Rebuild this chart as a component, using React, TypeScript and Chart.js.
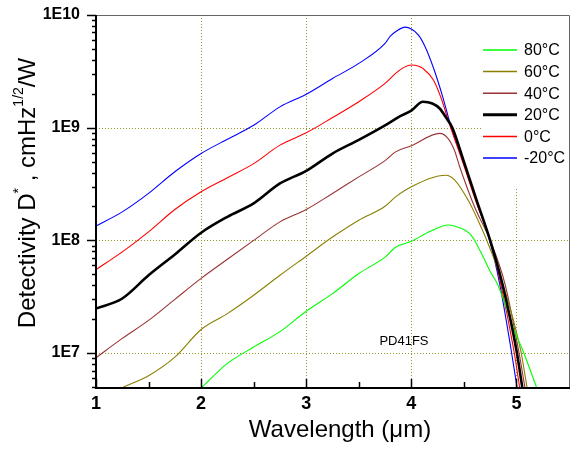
import React, { useEffect, useRef } from 'react';
import { Chart, registerables } from 'chart.js';

Chart.register(...registerables);

// ---- data ----
const seriesLabels = ['80°C', '60°C', '40°C', '20°C', '0°C', '-20°C'];
const seriesColors = ['#00ff00', '#8a8000', '#993333', '#000000', '#ff0000', '#0000ff'];

const wl80 = [2.01, 2.25, 2.5, 2.75, 3.0, 3.25, 3.5, 3.75, 3.85, 4.0, 4.17, 4.35, 4.41, 4.57, 4.666, 4.76, 4.817, 4.89, 4.98, 5.06, 5.19];
const d80 = [5.0e6, 8.1e6, 1.13e7, 1.55e7, 2.35e7, 3.37e7, 5.08e7, 7.1e7, 8.7e7, 9.8e7, 1.19e8, 1.37e8, 1.34e8, 1.11e8, 7.7e7, 5.1e7, 4.14e7, 2.75e7, 1.58e7, 1.06e7, 5.0e6];

const wl60 = [1.26, 1.5, 1.75, 2.0, 2.25, 2.5, 2.75, 3.0, 3.25, 3.5, 3.75, 3.85, 4.0, 4.33, 4.413, 4.54, 4.634, 4.714, 4.87, 5.04, 5.1];
const d60 = [5.0e6, 6.3e6, 9.2e6, 1.62e7, 2.24e7, 3.26e7, 4.9e7, 7.24e7, 1.07e8, 1.51e8, 2.01e8, 2.43e8, 2.99e8, 3.79e8, 3.43e8, 2.28e8, 1.51e8, 1.02e8, 4.14e7, 1.06e7, 5.0e6];

const wl40 = [1.0, 1.25, 1.5, 1.75, 2.0, 2.25, 2.5, 2.75, 3.0, 3.25, 3.5, 3.75, 3.85, 4.0, 4.27, 4.35, 4.41, 4.46, 4.6, 4.75, 4.89, 5.02, 5.08];
const d40 = [9.1e6, 1.35e7, 1.95e7, 3.0e7, 4.6e7, 6.8e7, 1.0e8, 1.46e8, 1.88e8, 2.61e8, 3.66e8, 5.1e8, 6.1e8, 6.9e8, 8.9e8, 8.0e8, 6.3e8, 4.5e8, 2.0e8, 1.0e8, 4.14e7, 1.06e7, 5.0e6];

const wl20 = [1.0, 1.25, 1.5, 1.75, 2.0, 2.25, 2.5, 2.75, 3.0, 3.25, 3.5, 3.75, 3.89, 4.0, 4.11, 4.2, 4.27, 4.33, 4.39, 4.5, 4.62, 4.75, 4.865, 5.0, 5.055];
const d20 = [2.48e7, 3.05e7, 4.9e7, 7.5e7, 1.17e8, 1.62e8, 2.13e8, 3.2e8, 4.14e8, 5.9e8, 7.8e8, 1.05e9, 1.26e9, 1.42e9, 1.7e9, 1.64e9, 1.48e9, 1.23e9, 1.0e9, 5.0e8, 2.29e8, 1.0e8, 4.14e7, 1.06e7, 5.0e6];

const wl0 = [1.0, 1.25, 1.5, 1.75, 2.0, 2.25, 2.5, 2.75, 3.0, 3.25, 3.5, 3.75, 3.85, 3.93, 4.0, 4.07, 4.11, 4.21, 4.29, 4.35, 4.5, 4.62, 4.75, 4.85, 4.975, 5.03];
const d0 = [5.5e7, 7.9e7, 1.19e8, 1.88e8, 2.7e8, 3.6e8, 4.8e8, 7.0e8, 9.0e8, 1.23e9, 1.7e9, 2.47e9, 3.03e9, 3.43e9, 3.6e9, 3.51e9, 3.36e9, 2.65e9, 1.76e9, 1.17e9, 4.6e8, 2.14e8, 1.0e8, 4.14e7, 1.06e7, 5.0e6];

const wlM20 = [1.0, 1.25, 1.5, 1.75, 2.0, 2.25, 2.5, 2.75, 3.0, 3.25, 3.5, 3.75, 3.8, 3.85, 3.94, 4.0, 4.07, 4.13, 4.21, 4.3, 4.38, 4.5, 4.62, 4.745, 4.84, 4.95, 5.005];
const dM20 = [1.34e8, 1.79e8, 2.61e8, 4.06e8, 5.9e8, 7.9e8, 1.05e9, 1.53e9, 1.98e9, 2.73e9, 3.72e9, 5.6e9, 6.5e9, 7.1e9, 7.8e9, 7.5e9, 6.6e9, 5.25e9, 3.4e9, 1.86e9, 1.0e9, 4.8e8, 2.24e8, 1.0e8, 4.14e7, 1.06e7, 5.0e6];

const seriesX = [wl80, wl60, wl40, wl20, wl0, wlM20];
const seriesY = [d80, d60, d40, d20, d0, dM20];

const xTickValues = [1, 2, 3, 4, 5];
const xMinorTicks = [1.5, 2.5, 3.5, 4.5];
const yTickValues = [1e7, 1e8, 1e9, 1e10];
const yTickLabels = ['1E7', '1E8', '1E9', '1E10'];
const xGridValues = [2, 3, 4, 5];
const yGridValues = [1e7, 1e8, 1e9];

const xTitle = 'Wavelength (μm)';
const annotationText = 'PD41FS';

const FONT = "'Liberation Sans', Arial, sans-serif";
const GRID_COLOR = 'rgb(150,150,40)';

const overlayPlugin = {
  id: 'overlay',
  beforeDatasetsDraw(chart: any) {
    const { ctx, chartArea: a, scales } = chart;
    const xs = scales.x, ys = scales.y;
    ctx.save();
    ctx.strokeStyle = GRID_COLOR;
    ctx.lineWidth = 1;
    ctx.setLineDash([1, 2]);
    for (const v of xGridValues) {
      const px = Math.round(xs.getPixelForValue(v)) + 0.5;
      ctx.beginPath();
      ctx.moveTo(px, a.top);
      ctx.lineTo(px, a.bottom);
      ctx.stroke();
    }
    for (const v of yGridValues) {
      const py = Math.round(ys.getPixelForValue(v)) + 0.5;
      ctx.beginPath();
      ctx.moveTo(a.left, py);
      ctx.lineTo(a.right, py);
      ctx.stroke();
    }
    ctx.setLineDash([]);
    // legend background box
    ctx.fillStyle = '#ffffff';
    ctx.fillRect(a.right - 86, a.top + 1, 85, 173);
    ctx.restore();
  },
  afterDatasetsDraw(chart: any) {
    const { ctx, chartArea: a, scales } = chart;
    const xs = scales.x, ys = scales.y;
    ctx.save();
    // top/right frame
    ctx.strokeStyle = '#666666';
    ctx.lineWidth = 1;
    ctx.beginPath();
    ctx.moveTo(a.left, a.top + 0.5);
    ctx.lineTo(a.right + 0.5, a.top + 0.5);
    ctx.lineTo(a.right + 0.5, a.bottom);
    ctx.stroke();
    // axes
    ctx.strokeStyle = '#000';
    ctx.lineWidth = 2;
    ctx.beginPath();
    ctx.moveTo(a.left, a.top);
    ctx.lineTo(a.left, a.bottom + 1);
    ctx.lineTo(a.right + 1, a.bottom + 1);
    ctx.stroke();
    // y ticks (outward)
    ctx.lineWidth = 1.5;
    for (let e = 6; e <= 9; e++) {
      for (let m = 1; m <= 9; m++) {
        const v = m * Math.pow(10, e);
        if (v < ys.min || v > ys.max) continue;
        const py = Math.round(ys.getPixelForValue(v)) + 0.5;
        ctx.beginPath();
        ctx.moveTo(a.left - (m === 1 ? 9 : 4), py);
        ctx.lineTo(a.left, py);
        ctx.stroke();
      }
    }
    {
      const py = Math.round(ys.getPixelForValue(1e10)) + 0.5;
      ctx.beginPath();
      ctx.moveTo(a.left - 9, py);
      ctx.lineTo(a.left, py);
      ctx.stroke();
    }
    // x ticks (inward)
    for (const v of xTickValues) {
      const px = Math.round(xs.getPixelForValue(v)) + 0.5;
      ctx.beginPath();
      ctx.moveTo(px, a.bottom);
      ctx.lineTo(px, a.bottom - 8);
      ctx.stroke();
    }
    for (const v of xMinorTicks) {
      const px = Math.round(xs.getPixelForValue(v)) + 0.5;
      ctx.beginPath();
      ctx.moveTo(px, a.bottom);
      ctx.lineTo(px, a.bottom - 5);
      ctx.stroke();
    }
    // legend
    ctx.font = `16px ${FONT}`;
    ctx.textBaseline = 'middle';
    ctx.textAlign = 'left';
    chart.data.datasets.forEach((ds: any, i: number) => {
      const yy = a.top + 35 + i * 21.6;
      ctx.strokeStyle = ds.borderColor;
      ctx.lineWidth = ds.borderWidth > 2 ? 3 : 1.5;
      ctx.beginPath();
      ctx.moveTo(a.right - 86, yy);
      ctx.lineTo(a.right - 52, yy);
      ctx.stroke();
      ctx.fillStyle = '#000';
      ctx.fillText(ds.label, a.right - 45, yy + 1);
    });
    // annotation
    ctx.font = `13px ${FONT}`;
    ctx.textAlign = 'center';
    ctx.fillText(annotationText, xs.getPixelForValue(3.93), ys.getPixelForValue(1.27e7));
    // x title
    ctx.font = `24px ${FONT}`;
    ctx.textBaseline = 'alphabetic';
    ctx.fillText(xTitle, 340, 437);
    // y title with superscripts
    const big = `24px ${FONT}`;
    const small = `14px ${FONT}`;
    const parts: [string, boolean][] = [
      ['Detectivity D', false],
      ['*', true],
      [' , cmHz', false],
      ['1/2', true],
      ['/W', false],
    ];
    let total = 0;
    for (const [t, sup] of parts) {
      ctx.font = sup ? small : big;
      total += ctx.measureText(t).width;
    }
    ctx.translate(35, 193);
    ctx.rotate(-Math.PI / 2);
    ctx.textAlign = 'left';
    let cx = -total / 2;
    for (const [t, sup] of parts) {
      ctx.font = sup ? small : big;
      ctx.fillText(t, cx, sup ? -12 : 0);
      cx += ctx.measureText(t).width;
    }
    ctx.restore();
  },
};

export default function App() {
  const ref = useRef<HTMLCanvasElement | null>(null);
  useEffect(() => {
    document.body.style.margin = '0';
    const canvas = ref.current;
    if (!canvas) return;
    const datasets = seriesLabels.map((label, i) => ({
      label,
      data: seriesX[i].map((x, j) => ({ x, y: seriesY[i][j] })),
      borderColor: seriesColors[i],
      backgroundColor: seriesColors[i],
      borderWidth: label === '20°C' ? 2.6 : 1.1,
      pointRadius: 0,
      fill: false,
      cubicInterpolationMode: 'monotone' as const,
      order: label === '20°C' ? 0 : 1,
    }));
    const chart = new Chart(canvas, {
      type: 'line',
      data: { datasets },
      options: {
        animation: false,
        responsive: false,
        devicePixelRatio: 1,
        layout: { padding: { top: 15, right: 10, left: 0, bottom: 0 } },
        plugins: { legend: { display: false }, tooltip: { enabled: false } },
        scales: {
          x: {
            type: 'linear',
            min: 1,
            max: 5.5,
            grid: { display: false, drawTicks: false },
            border: { display: false },
            afterBuildTicks: (s: any) => {
              s.ticks = xTickValues.map((v) => ({ value: v }));
            },
            afterFit: (s: any) => {
              s.height = 63;
              s.paddingLeft = 0;
              s.paddingRight = 0;
            },
            ticks: {
              color: '#000',
              font: { family: FONT, size: 18, weight: 'bold' },
              padding: 6,
              maxRotation: 0,
              callback: (v: any) => String(v),
            },
          },
          y: {
            type: 'logarithmic',
            min: 5e6,
            max: 1e10,
            grid: { display: false, drawTicks: false },
            border: { display: false },
            afterBuildTicks: (s: any) => {
              s.ticks = yTickValues.map((v) => ({ value: v }));
            },
            afterFit: (s: any) => {
              s.width = 96;
              s.paddingTop = 0;
              s.paddingBottom = 0;
            },
            ticks: {
              color: '#000',
              font: { family: FONT, size: 16, weight: 'bold' },
              padding: 16,
              callback: (v: any) => {
                const idx = yTickValues.indexOf(Number(v));
                return idx >= 0 ? yTickLabels[idx] : '';
              },
            },
          },
        },
      },
      plugins: [overlayPlugin],
    });
    return () => chart.destroy();
  }, []);
  return (
    <div style={{ width: 579, height: 450 }}>
      <canvas ref={ref} width={579} height={450} style={{ display: 'block' }} />
    </div>
  );
}
